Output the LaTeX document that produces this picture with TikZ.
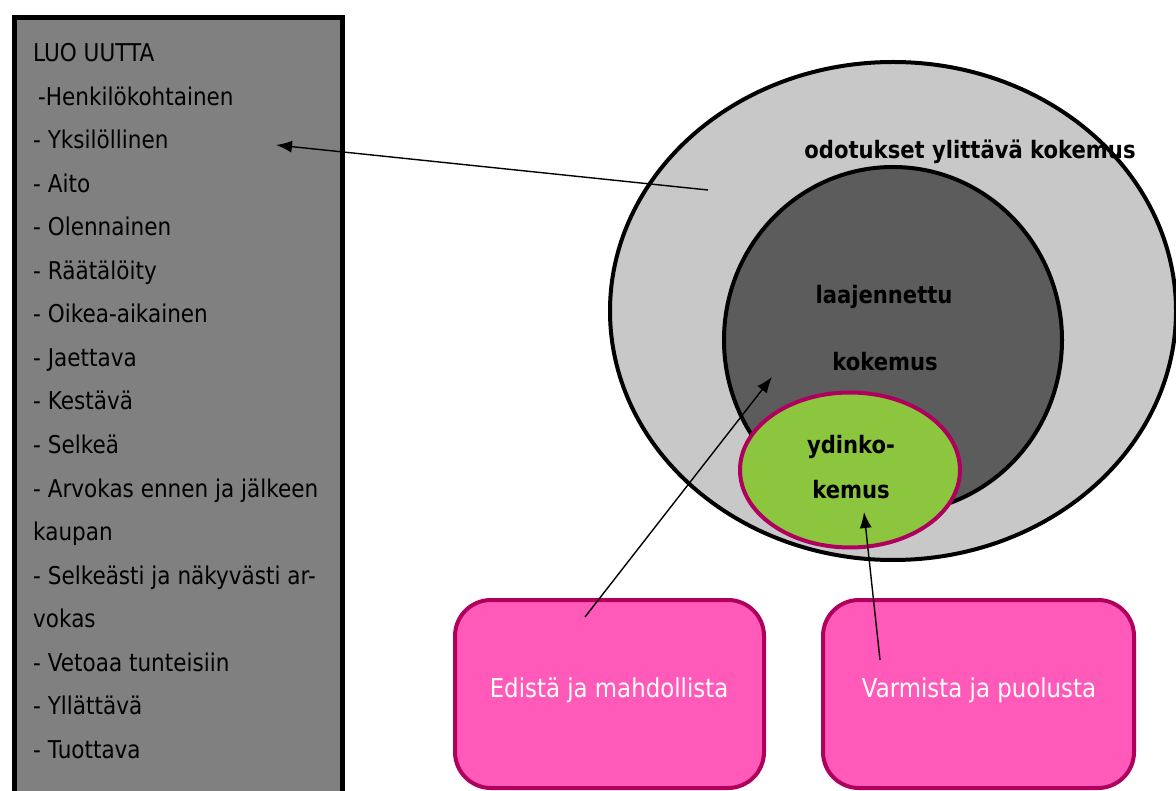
\documentclass[tikz,border=0pt]{standalone}
\usepackage{fontspec}
\setmainfont{DejaVu Sans}[FakeStretch=0.88]
\usetikzlibrary{shapes.geometric,arrows.meta}
\definecolor{boxgray}{HTML}{808080}
\definecolor{outergray}{HTML}{C8C8C8}
\definecolor{innergray}{HTML}{5C5C5C}
\definecolor{coregreen}{HTML}{8CC63F}
\definecolor{magborder}{HTML}{B0005E}
\definecolor{pinkfill}{HTML}{FF5AB9}
\tikzset{
  item/.style={anchor=base west, inner sep=0, font=\fontsize{24.5}{28}\selectfont},
  lbl/.style={inner sep=0, font=\bfseries\fontsize{24}{27}\selectfont},
  ring/.style={ellipse, draw=black, line width=4pt, inner sep=0},
  pinkbox/.style={draw=magborder, fill=pinkfill, line width=4pt, rounded corners=36pt, inner sep=0},
  ptext/.style={text=white, inner sep=0, font=\fontsize{26}{30}\selectfont},
  conn/.style={line width=1.4pt, -{Latex[length=16pt,width=12pt]}}
}
\begin{document}
\begin{tikzpicture}[x=1pt,y=-1pt]
\useasboundingbox (0,0) rectangle (1176,791);
\clip (0,0) rectangle (1176,791);
% left list box
\node[draw=black, fill=boxgray, line width=5pt, minimum width=328pt, minimum height=820pt,
      anchor=north west, inner sep=0] (list) at (12,15) {};
\foreach \t [count=\i] in {LUO UUTTA, \hspace{5pt}-Henkilökohtainen, - Yksilöllinen, - Aito, - Olennainen,
  - Räätälöity, - Oikea-aikainen, - Jaettava, - Kestävä, - Selkeä, - Arvokas ennen ja jälkeen,
  kaupan, - Selkeästi ja näkyvästi ar-, vokas, - Vetoaa tunteisiin, - Yllättävä, - Tuottava}
  {\node[item] (item\i) at (33,{62+(\i-1)*43.5}) {\t};}
% ellipses
\node[ring, fill=outergray, minimum width=566pt, minimum height=498pt] (outer) at (893,311) {};
\node[ring, fill=innergray, minimum width=338pt, minimum height=346pt] (inner) at (893,340) {};
\node[ellipse, draw=magborder, fill=coregreen, line width=4pt, inner sep=0,
      minimum width=220pt, minimum height=155pt] (core) at (850,470) {};
\node[lbl] (louter) at (970,152) {odotukset ylittävä kokemus};
\node[lbl] (linner1) at (884,297) {laajennettu};
\node[lbl] (linner2) at (885,362) {kokemus};
\node[lbl] (lcore1) at (851,447) {ydinko-};
\node[lbl] (lcore2) at (851,490) {kemus};
% pink boxes
\node[pinkbox, minimum width=309pt, minimum height=188pt] (edista) at (609.5,694) {};
\node[pinkbox, minimum width=311pt, minimum height=188pt] (varmista) at (978.5,694) {};
\node[ptext] (tedista) at (609,690) {Edistä ja mahdollista};
\node[ptext] (tvarmista) at (979,690) {Varmista ja puolusta};
% connectors
\coordinate (a1s) at (708,190);
\coordinate (a1e) at (276,145);
\coordinate (a2s) at (585,617);
\coordinate (a2e) at (772,377);
\coordinate (a3s) at (880,660);
\coordinate (a3e) at (864,512);
\draw[conn] (a1s) -- (a1e);
\draw[conn] (a2s) -- (a2e);
\draw[conn] (a3s) -- (a3e);
\end{tikzpicture}
\end{document}
